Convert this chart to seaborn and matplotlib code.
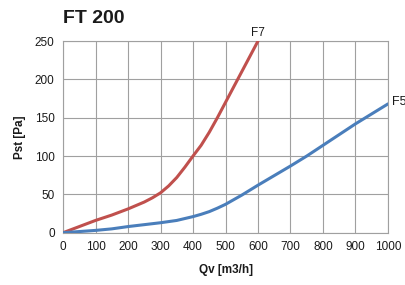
import pandas as pd
import matplotlib.pyplot as plt
import seaborn as sns

# Datos
qv_f7 = [0, 50, 100, 150, 200, 250, 275, 300, 325, 350, 375, 400, 425, 450, 475, 500, 525, 550, 575, 600]
pst_f7 = [0, 8, 16, 23, 31, 40, 45.5, 52, 61, 72, 85.5, 100, 114, 131, 150, 170, 190, 210, 230, 250]

qv_f5 = [0, 50, 100, 150, 200, 250, 300, 350, 400, 425, 450, 475, 500, 525, 550, 575, 600,
         650, 700, 750, 800, 850, 900, 950, 1000]
pst_f5 = [0, 1.5, 3, 5, 8, 10.5, 13, 16, 21, 24, 27.5, 32, 37, 43, 49, 55.5, 62,
          74.5, 87, 100, 114, 128, 142, 155, 168]

x_ticks = [0, 100, 200, 300, 400, 500, 600, 700, 800, 900, 1000]
y_ticks = [0, 50, 100, 150, 200, 250]

df7 = pd.DataFrame({"Qv": qv_f7, "Pst": pst_f7})
df5 = pd.DataFrame({"Qv": qv_f5, "Pst": pst_f5})

sns.set_style("white")
plt.rcParams["font.family"] = ["Liberation Sans", "DejaVu Sans"]
plt.rcParams["text.color"] = "#1a1a1a"
plt.rcParams["axes.labelcolor"] = "#1a1a1a"
plt.rcParams["xtick.labelcolor"] = "#1a1a1a"
plt.rcParams["ytick.labelcolor"] = "#1a1a1a"

fig = plt.figure(figsize=(4.05, 2.85), dpi=100)
ax = fig.add_axes([0.1556, 0.1835, 0.8024, 0.6725])

sns.lineplot(data=df7, x="Qv", y="Pst", color="#c0504d", linewidth=2.2, ax=ax, zorder=3)
sns.lineplot(data=df5, x="Qv", y="Pst", color="#4a7ebb", linewidth=2.2, ax=ax, zorder=3)

ax.set_xlim(0, 1000)
ax.set_ylim(0, 250)
ax.set_xticks(x_ticks)
ax.set_yticks(y_ticks)
ax.grid(True, color="#a0a0a0", linewidth=0.8)
ax.set_axisbelow(True)
for s in ax.spines.values():
    s.set_color("#a0a0a0")
    s.set_linewidth(0.8)
ax.tick_params(axis="both", labelsize=8.5, length=4, color="#a0a0a0", pad=2)
ax.tick_params(axis="x", length=0, pad=6)

ax.set_xlabel("Qv [m3/h]", fontsize=8.5, fontweight="bold", labelpad=8)
ax.set_ylabel("Pst [Pa]", fontsize=8.5, fontweight="bold", labelpad=6)

ax.text(600, 253, "F7", fontsize=8.5, ha="center", va="bottom", clip_on=False)
ax.text(1012, 170, "F5", fontsize=9, ha="left", va="center", clip_on=False)

fig.text(0.1556, 0.935, "FT 200", fontsize=14, fontweight="bold", ha="left", va="center")

fig.savefig("out.png", dpi=100)
